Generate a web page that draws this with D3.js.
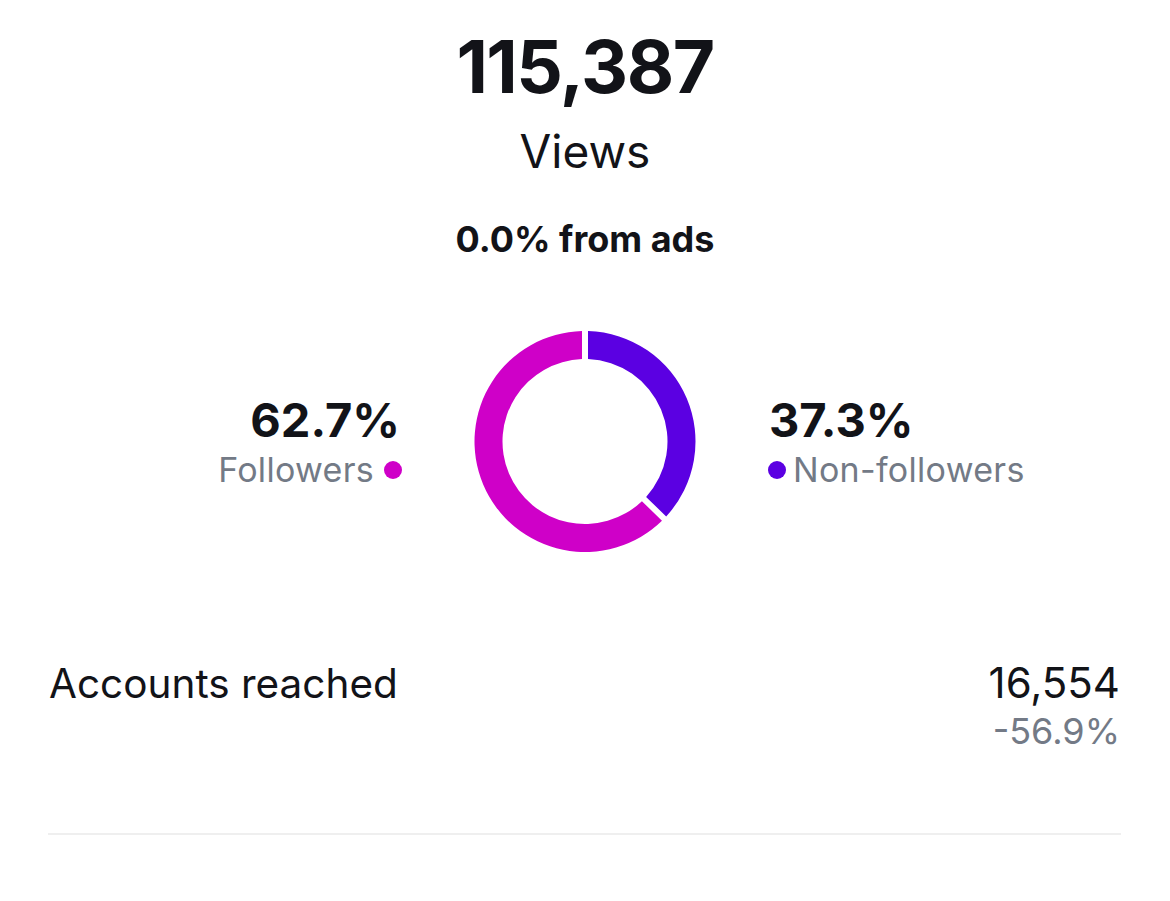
<!doctype html>
<html lang="en">
<head>
<meta charset="utf-8">
<title>Views</title>
<script src="https://cdn.jsdelivr.net/npm/d3@7"></script>
<style>
  body { margin: 0; background: #fff; }
  svg { display: block; font-family: "Inter", "Roboto", sans-serif; }
</style>
</head>
<body>
<div id="viz"></div>
<script>
// data
var totalViews = "115,387";
var viewsLabel = "Views";
var adsLabel = "0.0% from ads";
var categories = ["Followers", "Non-followers"];
var shares = [62.7, 37.3];
var colors = ["#cf00c8", "#5b00e2"];
var reachLabel = "Accounts reached";
var reachValue = "16,554";
var reachChange = "-56.9%";

var W = 1170, H = 901;
var svg = d3.select("#viz").append("svg").attr("width", W).attr("height", H);

var ink = "#121318", grey = "#737a86";

// header
svg.append("text").attr("x", 585).attr("y", 93).attr("text-anchor", "middle")
  .attr("font-size", 73).attr("font-weight", 700).attr("letter-spacing", -1.5)
  .attr("fill", ink).text(totalViews);
svg.append("text").attr("x", 585).attr("y", 168).attr("text-anchor", "middle")
  .attr("font-size", 46).attr("font-weight", 400).attr("fill", ink).text(viewsLabel);
svg.append("text").attr("x", 585).attr("y", 252).attr("text-anchor", "middle")
  .attr("font-size", 36).attr("font-weight", 700).attr("fill", ink).text(adsLabel);

// donut
var cx = 585, cy = 441.5, outerR = 110.5, innerR = 82.5;
var pie = d3.pie().sort(null).startAngle(2 * Math.PI).endAngle(0);
var arcs = pie(shares);
var arc = d3.arc().innerRadius(innerR).outerRadius(outerR)
  .padAngle(6 / outerR).padRadius(outerR);

svg.append("g").attr("transform", "translate(" + cx + "," + cy + ")")
  .selectAll("path").data(arcs).enter().append("path")
  .attr("d", arc)
  .attr("fill", function(d, i) { return colors[i]; });

// side labels
var fmt = function(v) { return v.toFixed(1) + "%"; };
var left = svg.append("g");
left.append("text").attr("x", 400).attr("y", 437).attr("text-anchor", "end")
  .attr("font-size", 47).attr("font-weight", 700).attr("fill", ink).text(fmt(shares[0]));
left.append("text").attr("x", 374).attr("y", 482).attr("text-anchor", "end")
  .attr("font-size", 34).attr("letter-spacing", 0.3).attr("fill", grey).text(categories[0]);
left.append("circle").attr("cx", 393).attr("cy", 470).attr("r", 9).attr("fill", colors[0]);

var right = svg.append("g");
right.append("text").attr("x", 769).attr("y", 437).attr("text-anchor", "start")
  .attr("font-size", 47).attr("font-weight", 700).attr("fill", ink).text(fmt(shares[1]));
right.append("circle").attr("cx", 777).attr("cy", 470).attr("r", 9).attr("fill", colors[1]);
right.append("text").attr("x", 793).attr("y", 482).attr("text-anchor", "start")
  .attr("font-size", 34).attr("letter-spacing", 0.3).attr("fill", grey).text(categories[1]);

// accounts reached row
svg.append("text").attr("x", 49).attr("y", 698)
  .attr("font-size", 40.5).attr("fill", ink).text(reachLabel);
svg.append("text").attr("x", 1120).attr("y", 698).attr("text-anchor", "end")
  .attr("font-size", 42).attr("fill", ink).text(reachValue);
svg.append("text").attr("x", 1120).attr("y", 744).attr("text-anchor", "end")
  .attr("font-size", 36).attr("fill", grey).text(reachChange);

// divider
svg.append("line").attr("x1", 48).attr("x2", 1121).attr("y1", 834).attr("y2", 834)
  .attr("stroke", "#efefef").attr("stroke-width", 2);
</script>
</body>
</html>
